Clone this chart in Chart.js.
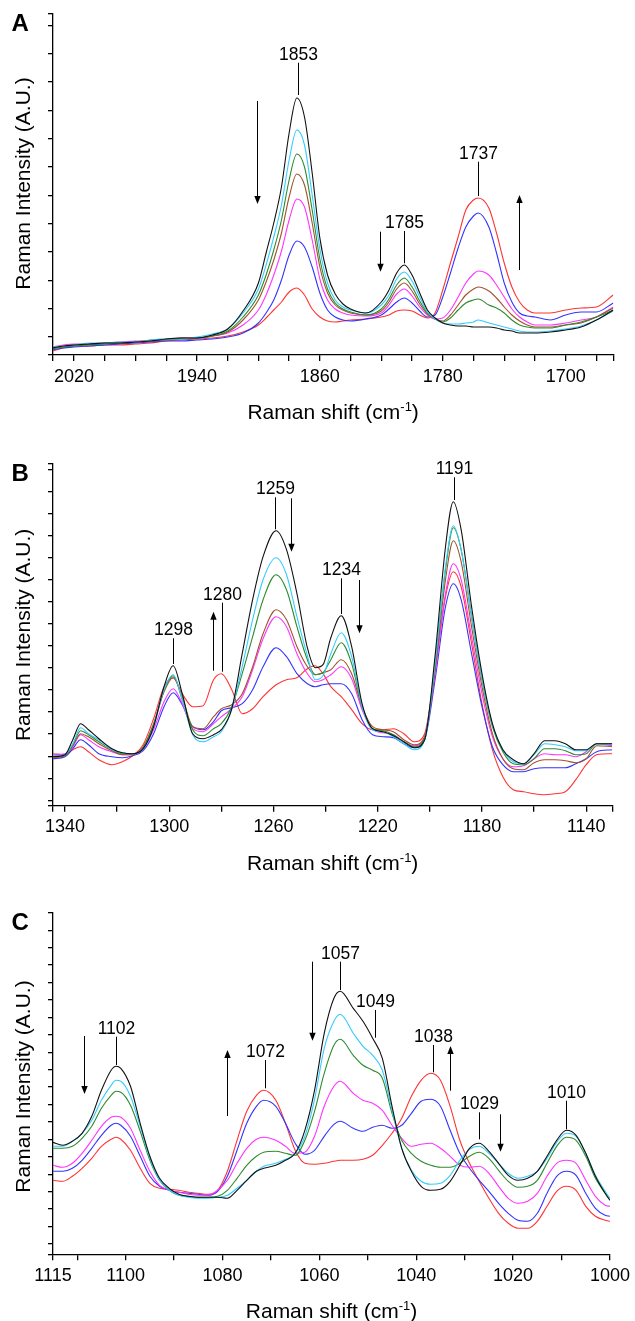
<!DOCTYPE html>
<html><head><meta charset="utf-8">
<script src="https://cdn.jsdelivr.net/npm/chart.js@4.4.1/dist/chart.umd.min.js"></script>
<style>
html,body{margin:0;padding:0;background:#fff;}
#wrap{position:relative;width:635px;height:1321px;overflow:hidden;background:#fff;}
canvas{position:absolute;left:0;}
</style>
</head><body><div id="wrap">
<canvas id="cA" width="635" height="436" style="top:0px"></canvas>
<canvas id="cB" width="635" height="442" style="top:436px"></canvas>
<canvas id="cC" width="635" height="443" style="top:878px"></canvas>
</div>
<script>
// ---------------- DATA ----------------
const yTitle = "Raman Intensity (A.U.)";
const xTitle = ["Raman shift (cm", "-1", ")"];

// Panel A
const shiftA = [2034, 2027, 2020, 2010, 2000, 1990, 1980, 1970, 1960, 1950,
  1940, 1930, 1920, 1910, 1900, 1895, 1890, 1885, 1880, 1875,
  1870, 1865, 1860, 1855, 1850, 1845, 1840, 1830, 1820, 1815,
  1810, 1805, 1800, 1795, 1790, 1785, 1780, 1775, 1770, 1765,
  1760, 1757, 1750, 1745, 1740, 1735, 1730, 1725, 1720, 1710,
  1700, 1690, 1680, 1669];
const A_black = [7, 9, 10, 11, 12, 12, 13, 14, 16, 17,
  17, 20, 26, 44, 72, 102, 132, 168, 222, 257,
  238, 182, 117, 80, 61, 51, 46, 42, 53, 65,
  82, 90, 80, 62, 45, 37, 32, 30, 29, 29,
  28, 28, 28, 27, 25, 24, 22, 22, 22, 23,
  25, 28, 35, 45];
const A_cyan = [8, 9, 10, 12, 12, 13, 13, 15, 16, 16,
  18, 21, 26, 42, 66, 90, 118, 150, 195, 225,
  210, 160, 106, 72, 55, 48, 45, 42, 50, 60,
  76, 83, 74, 58, 43, 36, 32, 31, 31, 32,
  33, 35, 32, 30, 28, 26, 24, 23, 23, 24,
  26, 29, 35, 44];
const A_green = [6, 8, 9, 10, 11, 12, 13, 14, 15, 16,
  17, 19, 24, 38, 60, 80, 105, 135, 175, 201,
  188, 145, 96, 66, 52, 46, 43, 40, 46, 56,
  70, 77, 68, 54, 42, 36, 33, 37, 45, 52,
  55, 56, 50, 47, 42, 35, 30, 28, 27, 27,
  30, 33, 38, 45];
const A_brown = [7, 8, 10, 11, 12, 12, 13, 15, 16, 17,
  17, 19, 23, 35, 55, 73, 95, 122, 158, 181,
  170, 132, 88, 62, 50, 45, 42, 40, 44, 53,
  66, 72, 64, 51, 41, 36, 34, 40, 50, 60,
  66, 68, 64, 57, 48, 40, 34, 30, 28, 28,
  30, 32, 38, 47];
const A_magenta = [8, 10, 11, 11, 12, 13, 14, 14, 15, 17,
  17, 19, 22, 30, 45, 60, 80, 104, 135, 156,
  148, 115, 76, 55, 46, 42, 40, 39, 42, 50,
  61, 66, 59, 48, 40, 36, 37, 45, 58, 72,
  81, 84, 80, 70, 58, 46, 38, 33, 30, 30,
  32, 35, 38, 48];
const A_blue = [5, 7, 8, 9, 10, 11, 12, 13, 14, 14,
  15, 16, 18, 22, 32, 42, 55, 75, 100, 114,
  108, 88, 62, 45, 38, 35, 34, 36, 40, 46,
  53, 57, 52, 44, 38, 40, 58, 82, 107, 128,
  139, 142, 128, 102, 72, 53, 42, 39, 38, 35,
  40, 43, 43, 52];
const A_red = [4, 7, 9, 9, 10, 10, 11, 12, 14, 15,
  16, 17, 19, 23, 30, 37, 45, 53, 63, 67,
  60, 46, 38, 34, 33, 34, 35, 36, 38, 40,
  44, 45, 44, 40, 37, 42, 65, 92, 118, 145,
  155, 157, 147, 122, 92, 68, 53, 45, 42, 42,
  45, 47, 48, 60];
const xTicksA = [2033.7, 2020, 2000, 1980, 1960, 1940, 1920, 1900, 1880, 1860, 1840, 1820, 1800, 1780, 1760, 1740, 1720, 1700, 1680, 1669];
const xLabelsA = [2020, 1940, 1860, 1780, 1700];
const yTicksA = [0, 18, 46.3, 74.7, 103, 131.3, 159.7, 188, 216.3, 244.7, 273, 301.3, 329.7, 341];
const peaksA = [
  {x: 1874.4, lo: 260, hi: 292.3, t: "1853"},
  {x: 1805.4, lo: 91.7, hi: 124, t: "1785"},
  {x: 1756.8, lo: 159, hi: 193.3, t: "1737"}];
const arrowsA = [
  {x: 1901.1, from: 254, to: 151},
  {x: 1820.8, from: 123.3, to: 83.3},
  {x: 1730.5, from: 85, to: 160}];

// Panel B
const shiftB = [1344.6, 1340, 1337, 1334, 1331, 1327, 1322, 1318, 1314, 1310,
  1306, 1302, 1298.5, 1295, 1291, 1287, 1283, 1280, 1276, 1272,
  1268, 1264, 1259, 1255, 1251, 1247, 1244, 1241, 1238, 1234,
  1230, 1226, 1222, 1218, 1214, 1210, 1206, 1202, 1198, 1194,
  1191, 1188, 1184, 1180, 1176, 1172, 1168, 1164, 1160, 1156,
  1152, 1148, 1144, 1140, 1136, 1130];
const B_black = [49, 51, 66, 82, 76, 67, 57, 53, 52, 57,
  79, 119, 140, 112, 72, 67, 71, 76, 97, 152,
  206, 249, 275, 256, 212, 158, 138, 141, 168, 190,
  159, 102, 77, 74, 70, 64, 58, 66, 150, 259,
  304, 276, 199, 132, 82, 56, 46, 42, 52, 65,
  65, 62, 56, 56, 62, 62];
const B_cyan = [50, 51, 62, 78, 72, 66, 56, 53, 52, 57,
  79, 116, 131, 106, 71, 64, 69, 74, 96, 139,
  186, 226, 248, 231, 189, 150, 126, 130, 152, 173,
  149, 99, 76, 74, 69, 62, 56, 66, 142, 239,
  280, 256, 189, 127, 81, 56, 44, 42, 51, 62,
  61, 59, 55, 55, 62, 61];
const B_green = [49, 50, 61, 75, 71, 64, 56, 52, 52, 58,
  81, 115, 130, 106, 76, 70, 77, 82, 99, 132,
  169, 206, 231, 216, 179, 146, 131, 133, 146, 163,
  142, 99, 77, 75, 71, 64, 59, 67, 141, 236,
  278, 256, 189, 126, 79, 54, 42, 41, 47, 57,
  57, 55, 51, 52, 62, 62];
const B_brown = [48, 50, 60, 72, 69, 62, 55, 51, 51, 59,
  82, 114, 128, 109, 79, 77, 89, 97, 101, 112,
  139, 172, 196, 186, 159, 139, 131, 133, 136, 146,
  132, 99, 79, 76, 74, 66, 61, 69, 136, 226,
  265, 244, 179, 119, 72, 47, 37, 36, 43, 46,
  46, 45, 43, 47, 60, 59];
const B_magenta = [51, 52, 59, 71, 66, 59, 54, 51, 51, 57,
  76, 104, 117, 102, 77, 74, 82, 89, 97, 109,
  136, 167, 189, 179, 152, 132, 124, 126, 131, 139,
  127, 96, 76, 73, 71, 64, 60, 69, 132, 212,
  242, 226, 169, 112, 69, 47, 39, 40, 47, 52,
  51, 51, 49, 54, 62, 60];
const B_blue = [47, 49, 57, 66, 61, 52, 49, 48, 50, 55,
  72, 99, 113, 101, 79, 76, 84, 95, 98, 102,
  116, 139, 158, 149, 132, 122, 119, 121, 122, 122,
  112, 86, 71, 69, 68, 62, 58, 66, 126, 199,
  222, 206, 152, 99, 59, 41, 34, 34, 37, 38,
  38, 38, 42, 47, 54, 56];
const B_red = [52, 51, 56, 59, 54, 46, 41, 44, 50, 61,
  87, 119, 128, 112, 99, 100, 126, 132, 116, 92,
  97, 109, 121, 126, 128, 137, 140, 132, 119, 109,
  96, 82, 76, 76, 77, 72, 64, 72, 136, 209,
  234, 219, 162, 102, 56, 29, 16, 14, 12, 11,
  12, 14, 26, 41, 51, 52];
const xTicksB = [1344.6, 1340, 1320, 1300, 1280, 1260, 1240, 1220, 1200, 1180, 1160, 1140, 1130];
const xLabelsB = [1340, 1300, 1260, 1220, 1180, 1140];
const yTicksB = [0, 5.4, 27.5, 49.5, 71.6, 93.7, 115.8, 137.8, 159.9, 182, 204, 226.1, 248.2, 270.2, 292.3, 314.4, 336.5, 341.7];
const peaksB = [
  {x: 1298.7, lo: 141.7, hi: 167.4, t: "1298"},
  {x: 1279.6, lo: 134, hi: 203, t: "1280"},
  {x: 1259.3, lo: 276.4, hi: 308.4, t: "1259"},
  {x: 1234.2, lo: 191.7, hi: 227.4, t: "1234"},
  {x: 1190.9, lo: 305.7, hi: 328.4, t: "1191"}];
const arrowsB = [
  {x: 1283.4, from: 135, to: 194},
  {x: 1253.4, from: 307.4, to: 254},
  {x: 1227, from: 225.7, to: 172.4}];

// Panel C
const shiftC = [1115, 1113, 1111, 1109, 1107, 1105, 1103, 1102, 1101, 1099,
  1097, 1095, 1093, 1091, 1089, 1087, 1085, 1083, 1081, 1079,
  1077, 1075, 1073, 1071.5, 1069, 1067, 1065, 1063, 1061, 1059,
  1057, 1055.7, 1053, 1051, 1049, 1047, 1045, 1043, 1041, 1039,
  1037, 1035, 1033, 1031, 1029, 1027, 1025, 1023, 1021, 1019,
  1017, 1015, 1013, 1011, 1009, 1007, 1005, 1003, 1001, 1000];
const C_black = [112, 109, 113, 121, 138, 164, 184, 188, 186, 168,
  131, 98, 76, 66, 60, 58, 57, 57, 57, 56,
  64, 74, 83, 86, 89, 94, 101, 124, 164, 221,
  256, 263, 246, 233, 216, 196, 148, 106, 83, 68,
  64, 65, 73, 89, 106, 111, 103, 91, 79, 74,
  76, 83, 98, 114, 124, 119, 101, 78, 61, 54];
const C_cyan = [108, 108, 113, 121, 134, 154, 169, 174, 173, 158,
  128, 96, 74, 64, 59, 57, 56, 56, 57, 59,
  66, 74, 83, 88, 91, 95, 101, 118, 155, 206,
  233, 240, 221, 208, 199, 184, 144, 106, 84, 73,
  70, 71, 79, 94, 105, 108, 101, 91, 81, 76,
  78, 83, 96, 112, 121, 118, 101, 79, 63, 56];
const C_green = [106, 106, 108, 116, 128, 146, 159, 163, 162, 149,
  123, 94, 74, 64, 59, 58, 57, 57, 58, 64,
  76, 89, 98, 102, 103, 101, 99, 114, 143, 181,
  209, 215, 199, 189, 184, 176, 141, 114, 101, 93,
  89, 87, 87, 91, 98, 102, 96, 84, 73, 67,
  68, 74, 91, 108, 117, 114, 98, 76, 61, 54];
const C_magenta = [89, 87, 91, 101, 114, 128, 137, 138, 137, 126,
  104, 83, 69, 64, 62, 60, 59, 59, 64, 74,
  91, 106, 115, 117, 114, 108, 101, 102, 118, 148,
  168, 173, 161, 154, 151, 144, 129, 116, 108, 110,
  111, 106, 98, 89, 87, 88, 81, 68, 56, 51,
  53, 61, 78, 91, 94, 91, 74, 58, 49, 48];
const C_blue = [83, 83, 86, 94, 106, 119, 129, 131, 129, 118,
  98, 78, 68, 64, 62, 61, 60, 59, 63, 78,
  104, 131, 148, 154, 148, 131, 111, 100, 104, 118,
  130, 133, 126, 123, 127, 129, 126, 129, 141, 153,
  155, 148, 124, 101, 86, 74, 63, 51, 41, 34,
  33, 41, 61, 78, 83, 79, 61, 46, 39, 38];
const C_red = [74, 73, 78, 86, 96, 108, 115, 117, 115, 104,
  86, 71, 66, 65, 64, 62, 61, 60, 64, 83,
  114, 143, 159, 164, 154, 131, 104, 91, 90, 91,
  93, 94, 94, 95, 99, 109, 121, 136, 158, 174,
  181, 174, 148, 114, 91, 73, 56, 41, 31, 26,
  26, 33, 48, 63, 68, 64, 48, 38, 34, 33];
const xTicksC = [1115, 1110, 1100, 1090, 1080, 1070, 1060, 1050, 1040, 1030, 1020, 1010, 1000];
const xLabelsC = [1115, 1100, 1080, 1060, 1040, 1020, 1000];
const yTicksC = [0, 10.3, 27.7, 45.2, 62.6, 80, 97.5, 114.9, 132.3, 149.7, 167.2, 184.6, 202, 219.5, 236.9, 254.3, 271.8, 289.2, 306.6, 324.1, 341.6];
const peaksC = [
  {x: 1101.9, lo: 189.3, hi: 217.6, t: "1102"},
  {x: 1071.3, lo: 166, hi: 194.3, t: "1072"},
  {x: 1055.7, lo: 264.3, hi: 292.6, t: "1057"},
  {x: 1048.6, lo: 216.6, hi: 244.3, t: "1049"},
  {x: 1036.6, lo: 182, hi: 209.3, t: "1038"},
  {x: 1027.1, lo: 115, hi: 142, t: "1029"},
  {x: 1009.1, lo: 125, hi: 153.6, t: "1010"}];
const arrowsC = [
  {x: 1108.5, from: 218.3, to: 160.3},
  {x: 1079.1, from: 138.3, to: 204.3},
  {x: 1061.5, from: 292.6, to: 213.6},
  {x: 1033.1, from: 163.6, to: 208.3},
  {x: 1022.7, from: 140, to: 102.6}];

// ---------------- STYLE ----------------
const FAMILY = "'Liberation Sans', Arial, Helvetica, sans-serif";
const COL = {black: '#111111', cyan: '#33CCFF', green: '#2E8B2E', brown: '#A0522D', magenta: '#FF33FF', blue: '#3333FF', red: '#FF3333'};

function decor(p) {
  return {
    id: 'decor' + p.letter,
    afterDraw(chart) {
      const ctx = chart.ctx, ca = chart.chartArea, xs = chart.scales.x, ys = chart.scales.y;
      ctx.save();
      ctx.fillStyle = '#000'; ctx.strokeStyle = '#000';
      ctx.font = 'bold 24px ' + FAMILY; ctx.textAlign = 'left'; ctx.textBaseline = 'alphabetic';
      ctx.fillText(p.letter, 11.5, ca.top + 17);
      ctx.save();
      ctx.translate(24, (ca.top + ca.bottom) / 2 + p.yTitleDy);
      ctx.rotate(-Math.PI / 2);
      ctx.font = '21px ' + FAMILY; ctx.textAlign = 'center'; ctx.textBaseline = 'middle';
      ctx.fillText(yTitle, 0, 0);
      ctx.restore();
      const base = ca.bottom + 64;
      ctx.textAlign = 'left'; ctx.textBaseline = 'alphabetic';
      ctx.font = '21px ' + FAMILY;
      const w1 = ctx.measureText(xTitle[0]).width, w3 = ctx.measureText(xTitle[2]).width;
      ctx.font = '13px ' + FAMILY;
      const w2 = ctx.measureText(xTitle[1]).width;
      let cx = (ca.left + ca.right) / 2 - (w1 + w2 + w3) / 2;
      ctx.font = '21px ' + FAMILY; ctx.fillText(xTitle[0], cx, base); cx += w1;
      ctx.font = '13px ' + FAMILY; ctx.fillText(xTitle[1], cx, base - 8); cx += w2;
      ctx.font = '21px ' + FAMILY; ctx.fillText(xTitle[2], cx, base);
      ctx.lineWidth = 1;
      ctx.font = '17.5px ' + FAMILY; ctx.textAlign = 'center';
      p.peaks.forEach(k => {
        const px = Math.round(xs.getPixelForValue(k.x)) + 0.5;
        const y0 = ys.getPixelForValue(k.lo), y1 = ys.getPixelForValue(k.hi);
        ctx.beginPath(); ctx.moveTo(px, y0); ctx.lineTo(px, y1); ctx.stroke();
        ctx.fillText(k.t, px, y1 - 3);
      });
      p.arrows.forEach(a => {
        const px = Math.round(xs.getPixelForValue(a.x)) + 0.5;
        const y0 = ys.getPixelForValue(a.from), y1 = ys.getPixelForValue(a.to);
        const dir = y1 > y0 ? 1 : -1;
        ctx.beginPath(); ctx.moveTo(px, y0); ctx.lineTo(px, y1 - dir * 5); ctx.stroke();
        ctx.beginPath(); ctx.moveTo(px, y1); ctx.lineTo(px - 3.2, y1 - dir * 8); ctx.lineTo(px + 3.2, y1 - dir * 8); ctx.closePath(); ctx.fill();
      });
      ctx.restore();
    }
  };
}

function makePanel(p) {
  const datasets = p.series.map((s, i) => ({
    label: p.names[i],
    data: p.x.map((x, j) => ({x: x, y: s[j]})),
    borderColor: COL[p.names[i]],
    borderWidth: 1.1,
    pointRadius: 0,
    fill: false,
    cubicInterpolationMode: 'monotone'
  }));
  const axisCol = '#000';
  return new Chart(document.getElementById(p.id), {
    type: 'line',
    data: {datasets},
    options: {
      responsive: false, animation: false, devicePixelRatio: 1,
      layout: {padding: {top: p.padTop, right: p.padRight, left: 0, bottom: 0}},
      plugins: {legend: {display: false}, tooltip: {enabled: false}},
      scales: {
        x: {
          type: 'linear', reverse: true, min: p.xMin, max: p.xMax,
          afterBuildTicks: s => { s.ticks = p.xTicks.map(v => ({value: v})); },
          afterFit: s => { s.height = p.xHeight; },
          ticks: {autoSkip: false, maxRotation: 0, minRotation: 0, padding: 5, color: '#000',
            font: {family: FAMILY, size: 18},
            callback: v => p.xLabels.includes(v) ? String(v) : ''},
          grid: {drawOnChartArea: false, drawTicks: true, tickLength: 6, color: axisCol, lineWidth: 1.3},
          border: {display: true, color: axisCol, width: 1.3}
        },
        y: {
          type: 'linear', min: 0, max: p.yMax,
          afterBuildTicks: s => { s.ticks = p.yTicks.map(v => ({value: v})); },
          afterFit: s => { s.width = 53; },
          ticks: {display: false},
          grid: {drawOnChartArea: false, drawTicks: true, tickLength: 5, color: axisCol, lineWidth: 1.3},
          border: {display: true, color: axisCol, width: 1.3}
        }
      }
    },
    plugins: [decor(p)]
  });
}

makePanel({id: 'cA', letter: 'A', x: shiftA,
  series: [A_black, A_cyan, A_green, A_brown, A_magenta, A_blue, A_red],
  names: ['black', 'cyan', 'green', 'brown', 'magenta', 'blue', 'red'],
  xMin: 1669, xMax: 2033.7, xTicks: xTicksA, xLabels: xLabelsA,
  yMax: 341, yTicks: yTicksA, padTop: 14, padRight: 21.7, xHeight: 81, yTitleDy: -1,
  peaks: peaksA, arrows: arrowsA});
makePanel({id: 'cB', letter: 'B', x: shiftB,
  series: [B_black, B_cyan, B_green, B_brown, B_magenta, B_blue, B_red],
  names: ['black', 'cyan', 'green', 'brown', 'magenta', 'blue', 'red'],
  xMin: 1130, xMax: 1344.6, xTicks: xTicksB, xLabels: xLabelsB,
  yMax: 341.7, yTicks: yTicksB, padTop: 28, padRight: 22.7, xHeight: 72.3, yTitleDy: 0,
  peaks: peaksB, arrows: arrowsB});
makePanel({id: 'cC', letter: 'C', x: shiftC,
  series: [C_black, C_cyan, C_green, C_magenta, C_blue, C_red],
  names: ['black', 'cyan', 'green', 'magenta', 'blue', 'red'],
  xMin: 1000, xMax: 1115, xTicks: xTicksC, xLabels: xLabelsC,
  yMax: 341.6, yTicks: yTicksC, padTop: 34.7, padRight: 21.7, xHeight: 66.7, yTitleDy: 3,
  peaks: peaksC, arrows: arrowsC});
</script></body></html>
